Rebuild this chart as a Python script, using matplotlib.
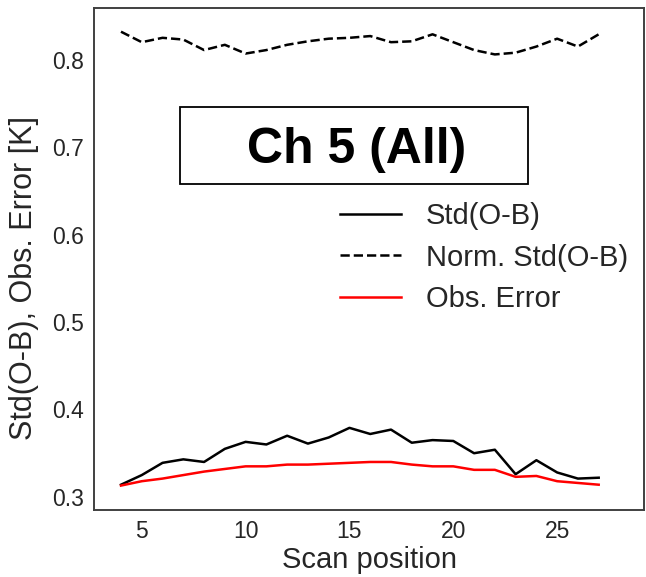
import matplotlib.pyplot as plt
from matplotlib.patches import Rectangle

plt.rcParams["font.family"] = ["Liberation Sans", "DejaVu Sans"]
plt.rcParams["text.color"] = ".15"
plt.rcParams["axes.labelcolor"] = ".15"
plt.rcParams["xtick.color"] = ".15"
plt.rcParams["ytick.color"] = ".15"

scan = list(range(4, 28))
std_ob = [0.314, 0.325, 0.339, 0.343, 0.340, 0.355, 0.363, 0.360, 0.370, 0.361,
          0.368, 0.379, 0.372, 0.377, 0.362, 0.365, 0.364, 0.350, 0.354, 0.326,
          0.342, 0.328, 0.321, 0.322]
norm_std_ob = [0.832, 0.820, 0.825, 0.823, 0.811, 0.817, 0.807, 0.811, 0.817, 0.821,
               0.824, 0.825, 0.827, 0.820, 0.821, 0.829, 0.820, 0.811, 0.806, 0.808,
               0.815, 0.824, 0.815, 0.829]
obs_err = [0.313, 0.318, 0.321, 0.325, 0.329, 0.332, 0.335, 0.335, 0.337, 0.337,
           0.338, 0.339, 0.340, 0.340, 0.337, 0.335, 0.335, 0.331, 0.331, 0.323,
           0.324, 0.318, 0.316, 0.314]

fig = plt.figure(figsize=(6.46, 5.77), dpi=100)
ax = fig.add_axes([0.1455, 0.116, 0.852, 0.870])

ax.plot(scan, std_ob, color="black", lw=1.8, label="Std(O-B)")
ax.plot(scan, norm_std_ob, color="black", lw=1.8, ls="--", label="Norm. Std(O-B)")
ax.plot(scan, obs_err, color="red", lw=1.8, label="Obs. Error")

ax.set_xlim(2.7, 29.2)
ax.set_ylim(0.285, 0.859)
ax.set_xticks([5, 10, 15, 20, 25])
ax.set_yticks([0.3, 0.4, 0.5, 0.6, 0.7, 0.8])
ax.tick_params(labelsize=16.5, length=0, pad=7)
for s in ax.spines.values():
    s.set_color(".25")
    s.set_linewidth(1.4)

ax.set_xlabel("Scan position", fontsize=21, labelpad=2)
ax.set_ylabel("Std(O-B), Obs. Error [K]", fontsize=22)
ax.yaxis.set_label_coords(-0.1, 0.463)

# channel title in a framed box
ax.add_patch(Rectangle((0.156, 0.649), 0.633, 0.153, transform=ax.transAxes,
                       fill=False, edgecolor="black", lw=1.3))
ax.text(0.478, 0.718, "Ch 5 (All)", transform=ax.transAxes, ha="center",
        va="center", fontsize=36, fontweight="bold", color="black")

ax.legend(loc="center", bbox_to_anchor=(0.709, 0.503), frameon=False,
          fontsize=21, handlelength=2.07, handletextpad=0.86, labelspacing=0.47)

fig.savefig("out.png", dpi=100)
